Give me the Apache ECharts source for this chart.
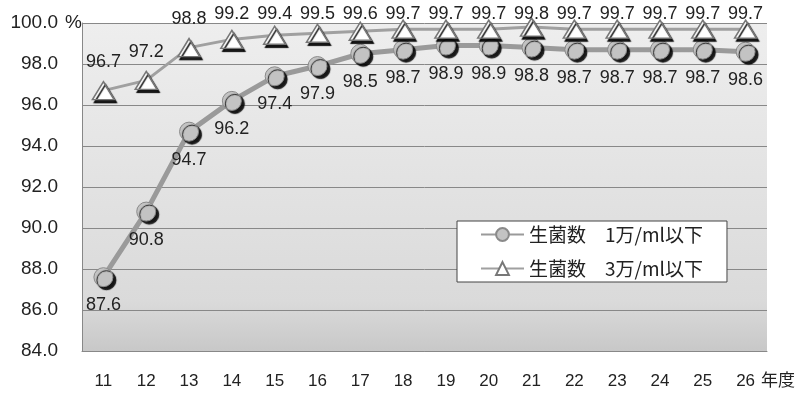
<!DOCTYPE html>
<html>
<head>
<meta charset="utf-8">
<script src="https://cdn.jsdelivr.net/npm/echarts@6/dist/echarts.min.js"></script>
<style>
  html, body { margin: 0; padding: 0; background: #fff; }
  #chart { width: 802px; height: 395px; }
</style>
</head>
<body>
<div id="chart"></div>
<script>
// 年度 (categories)
const years = ['11', '12', '13', '14', '15', '16', '17', '18', '19', '20', '21', '22', '23', '24', '25', '26']
// 生菌数 1万/ml以下 (%)
const under1man = [87.6, 90.8, 94.7, 96.2, 97.4, 97.9, 98.5, 98.7, 98.9, 98.9, 98.8, 98.7, 98.7, 98.7, 98.7, 98.6]
// 生菌数 3万/ml以下 (%)
const under3man = [96.7, 97.2, 98.8, 99.2, 99.4, 99.5, 99.6, 99.7, 99.7, 99.7, 99.8, 99.7, 99.7, 99.7, 99.7, 99.7]
const seriesNames = ['生菌数　1万/ml以下', '生菌数　3万/ml以下']

const font = '"Liberation Sans", Arial, "Noto Sans CJK JP", sans-serif'
const jpFont = '"Noto Sans CJK JP", ' + font

let chart = echarts.init(document.getElementById('chart'))
let option = {
    backgroundColor: '#fff',
    textStyle: { fontFamily: font },
    grid: {
        left: 82, right: 35, top: 23, bottom: 44,
        show: true,
        borderWidth: 0,
        // the grid rect came out flipped vertically, so the stops run bottom -> top
        backgroundColor: new echarts.graphic.LinearGradient(0, 1, 0, 0, [
            { offset: 0, color: '#c8c8c8' },
            { offset: 0.15, color: '#dadada' },
            { offset: 1, color: '#eeeeee' }
        ])
    },
    legend: {
        orient: 'vertical',
        left: 457, top: 221,
        backgroundColor: '#fff',
        borderColor: '#444',
        borderWidth: 1,
        borderRadius: 0,
        padding: [4, 24, 4, 23],
        itemGap: 15,
        itemWidth: 43,
        itemHeight: 16,
        textStyle: { fontSize: 19, color: '#222', fontFamily: jpFont },
        data: seriesNames
    },
    xAxis: {
        type: 'category',
        data: years,
        boundaryGap: true,
        name: '年度',
        nameLocation: 'end',
        nameGap: -8,
        nameTextStyle: {
            fontSize: 17, color: '#222', align: 'left', verticalAlign: 'top',
            padding: [20, 0, 0, 0], fontFamily: jpFont
        },
        axisLine: { lineStyle: { color: '#888', width: 1 } },
        axisTick: { inside: true, length: 7, lineStyle: { color: '#888' } },
        axisLabel: { fontSize: 17, color: '#222', margin: 22 }
    },
    yAxis: {
        type: 'value',
        min: 84, max: 100, interval: 2,
        name: '%',
        nameLocation: 'end',
        nameGap: 0,
        nameTextStyle: { fontSize: 19, color: '#222', align: 'right', verticalAlign: 'middle' },
        axisLine: { show: true, lineStyle: { color: '#888', width: 1 } },
        axisTick: { show: false },
        splitLine: { lineStyle: { color: '#888', width: 1 } },
        axisLabel: {
            fontSize: 19, color: '#222', margin: 24,
            formatter: v => v.toFixed(1)
        }
    },
    series: [
        {
            name: seriesNames[0],
            type: 'line',
            data: under1man,
            symbol: 'circle',
            symbolSize: 19,
            lineStyle: { color: '#9a9a9a', width: 5 },
            itemStyle: {
                color: '#c3c3c3', borderColor: '#8a8a8a', borderWidth: 1,
                shadowColor: 'rgba(0,0,0,0.9)', shadowBlur: 1, shadowOffsetX: 3, shadowOffsetY: 3
            },
            label: {
                show: true, position: 'bottom', distance: 9,
                fontSize: 18, color: '#222',
                formatter: p => p.value.toFixed(1)
            },
            z: 3
        },
        {
            name: seriesNames[1],
            type: 'line',
            data: under3man,
            symbol: 'triangle',
            symbolSize: [22, 18],
            lineStyle: { color: '#a0a0a0', width: 3 },
            itemStyle: {
                color: '#ffffff', borderColor: '#777', borderWidth: 1.5,
                shadowColor: 'rgba(0,0,0,0.9)', shadowBlur: 1, shadowOffsetX: 2, shadowOffsetY: 3
            },
            label: {
                show: true, position: 'top', distance: 10,
                fontSize: 18, color: '#222',
                formatter: p => p.value.toFixed(1)
            },
            // keep the top labels inside the canvas, like the original
            labelLayout: params => ({ dy: Math.max(0, 5 - params.labelRect.y) }),
            z: 4
        }
    ]
}
chart.setOption(option)
window.addEventListener('resize', () => {
    chart.resize()
})
</script>
</body>
</html>
